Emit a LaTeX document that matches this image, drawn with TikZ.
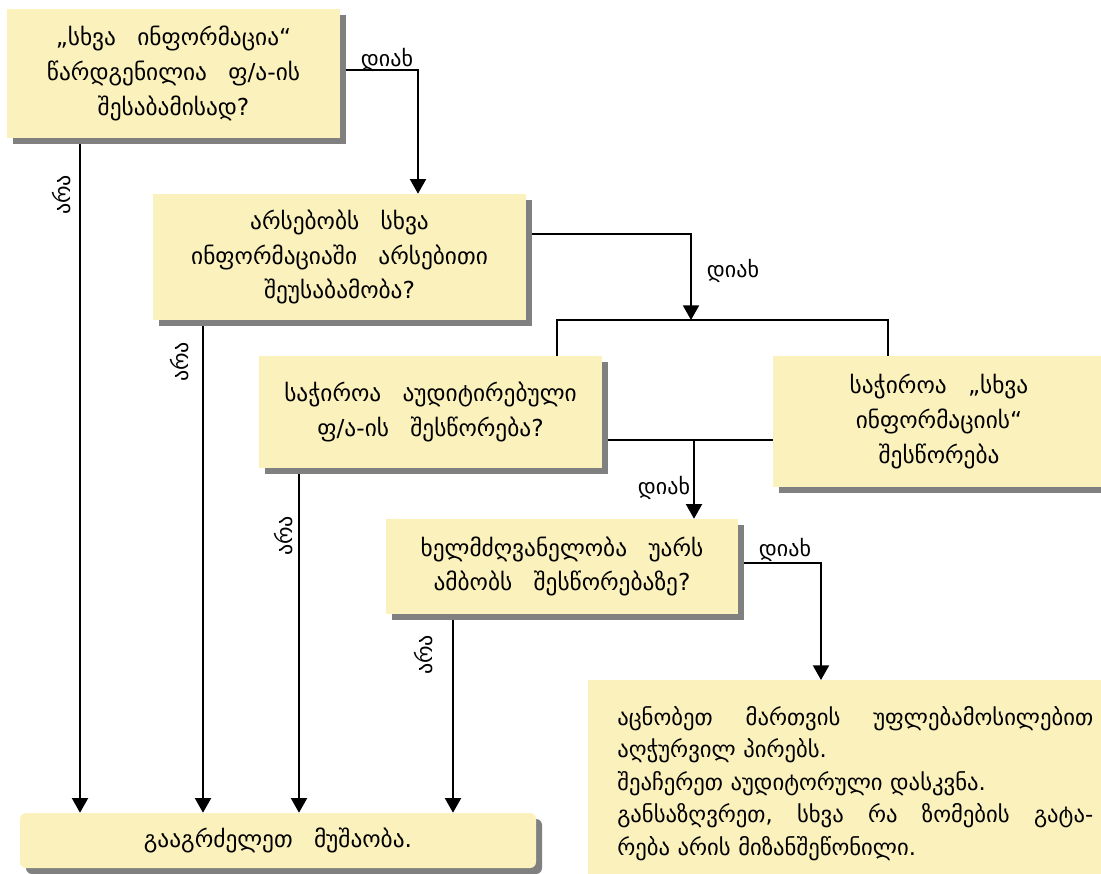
\documentclass[tikz,border=0pt]{standalone}
\usepackage{fontspec}
\setmainfont[WordSpace=1.9]{DejaVu Sans}
\usetikzlibrary{arrows.meta,shadows}
\definecolor{boxfill}{HTML}{FBF1BC}
\definecolor{shadowgray}{HTML}{808080}
\pgfdeclarelayer{lines}
\pgfsetlayers{lines,main}
\newcommand\spreadline[1]{\leavevmode\hbox to\linewidth{#1}}
\newcommand\boxfont{\fontsize{17.5}{26}\selectfont\spaceskip 16pt\relax}

\begin{document}
\begin{tikzpicture}[x=0.75pt,y=-0.75pt,
  box/.style={draw=none, fill=boxfill, inner sep=0pt, align=center,
    general shadow={fill=shadowgray, shadow xshift=4.5pt, shadow yshift=-4.5pt},
    font=\boxfont},
  conn/.style={line width=1.5pt, draw=black},
  arr/.style={conn, -{Triangle[width=12pt,length=11pt]}},
  lbl/.style={inner sep=0pt, font=\fontsize{16.5}{18}\selectfont}]
\useasboundingbox (0,0) rectangle (1101,874);

% decision and action boxes
\node[box, minimum width=249.75pt, minimum height=96.75pt] (B1) at (173.5,73.5)
  {„სხვა ინფორმაცია“\\წარდგენილია ფ/ა-ის\\შესაბამისად?};
\node[box, minimum width=279.75pt, minimum height=94.5pt] (B2) at (339.5,257)
  {არსებობს სხვა\\ინფორმაციაში არსებითი\\შეუსაბამობა?};
\node[box, minimum width=257.25pt, minimum height=84pt] (B3) at (430.5,412)
  {საჭიროა აუდიტირებული\\ფ/ა-ის შესწორება?};
\node[box, minimum width=249pt, minimum height=98.25pt] (B4) at (939,421.5)
  {საჭიროა „სხვა\\ინფორმაციის“\\შესწორება};
\node[box, minimum width=264pt, minimum height=71.25pt] (B5) at (562,566.5)
  {ხელმძღვანელობა უარს\\ამბობს შესწორებაზე?};
\node[box, anchor=north west, text width=357pt, inner xsep=21.75pt,
  minimum height=154.5pt, align=left, font=\fontsize{17}{24.4}\selectfont] (B6) at (588,680)
  {\spreadline{აცნობეთ\hfill მართვის\hfill უფლებამოსილებით}\\
   აღჭურვილ პირებს.\\
   შეაჩერეთ აუდიტორული დასკვნა.\\
   \spreadline{განსაზღვრეთ,\hfill სხვა\hfill რა\hfill ზომების\hfill გატა-}\\
   რება არის მიზანშეწონილი.};
\node[box, rounded corners=4.5pt, minimum width=387pt, minimum height=41.25pt] (B7) at (278,840.5)
  {გააგრძელეთ მუშაობა.};

% junction points
\coordinate (forkL) at (557,320);
\coordinate (forkR) at (888,320);
\coordinate (fork) at (691,320);
\coordinate (j1) at (694,440);

\begin{pgfonlayer}{lines}
  \draw[arr] (B1.east |- 0,70) -| (B2.north -| 418,0);
  \draw[arr] (B1.south -| 80,0) -- (B7.north -| 80,0);
  \draw[arr] (B2.east |- 0,234) -| (fork);
  \draw[conn] (B3.north -| forkL) -- (forkL) -- (forkR) -- (B4.north -| forkR);
  \draw[arr] (B2.south -| 203,0) -- (B7.north -| 203,0);
  \draw[conn] (B3.east |- j1) -- (B4.west |- j1);
  \draw[arr] (j1) -- (B5.north -| j1);
  \draw[arr] (B3.south -| 299,0) -- (B7.north -| 299,0);
  \draw[arr] (B5.east |- 0,563) -| (B6.north -| 821,0);
  \draw[arr] (B5.south -| 453,0) -- (B7.north -| 453,0);
\end{pgfonlayer}

% branch labels
\node[lbl] (yes1) at (387,60) {დიახ};
\node[lbl] (yes2) at (733,271) {დიახ};
\node[lbl] (yes3) at (664,488) {დიახ};
\node[lbl] (yes4) at (785,550) {დიახ};
\node[lbl, rotate=90] (no1) at (62,195) {არა};
\node[lbl, rotate=90] (no2) at (180,362) {არა};
\node[lbl, rotate=90] (no3) at (284,536) {არა};
\node[lbl, rotate=90] (no4) at (424,655) {არა};
\end{tikzpicture}
\end{document}
